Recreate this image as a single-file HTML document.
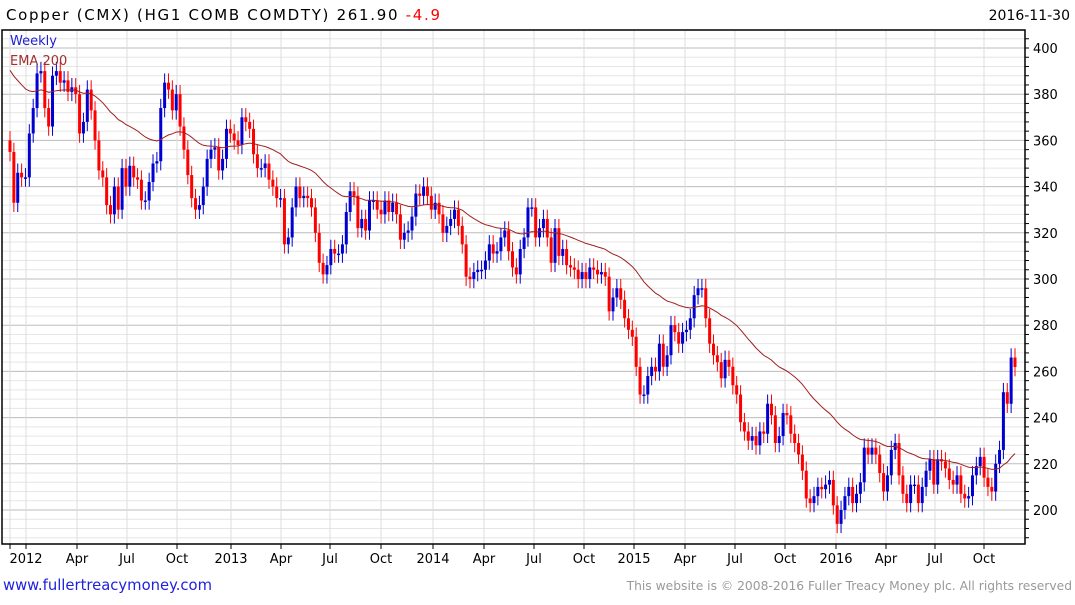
<!DOCTYPE html>
<html><head><meta charset="utf-8"><style>
body{margin:0;background:#fff;width:1075px;height:600px;overflow:hidden;font-family:"Liberation Sans","DejaVu Sans",sans-serif}
svg text{font-family:"DejaVu Sans","Liberation Sans",sans-serif}
</style></head><body>
<svg id="c" width="1075" height="600">
<text x="6" y="20" font-size="15" fill="#000" textLength="434" lengthAdjust="spacing">Copper (CMX) (HG1 COMB COMDTY) 261.90 <tspan fill="#ff0000">-4.9</tspan></text>
<text x="1070" y="20" font-size="14" fill="#000" text-anchor="end">2016-11-30</text>
<g id="grid"></g><g id="marks"></g>
<text x="10" y="45" font-size="13" fill="#2020d0">Weekly</text>
<text x="10" y="65" font-size="13" fill="#a03030">EMA 200</text>
<text x="3" y="590" font-size="15" fill="#2020e0" textLength="209" lengthAdjust="spacingAndGlyphs">www.fullertreacymoney.com</text>
<text x="1072" y="590" font-size="12.3" fill="#999" text-anchor="end">This website is © 2008-2016 Fuller Treacy Money plc. All rights reserved</text>
</svg>
<script>
const closes=[355,333,346,344,344,363,374,389,390,374,366,388,390,385,386,381,383,380,363,368,382,373,360,347,344,332,328,340,330,348,340,349,344,343,334,334,342,350,351,374,385,382,373,380,366,356,345,335,330,332,340,352,356,357,347,352,365,363,360,358,370,368,365,354,348,
348,350,343,340,335,335,315,318,331,340,335,336,335,331,320,307,302,306,313,311,311,315,329,338,336,322,326,321,334,334,330,328,334,329,333,328,317,320,321,327,337,336,340,336,330,333,328,320,323,326,330,323,315,301,300,303,304,304,308,315,311,312,318,321,312,305,302,313,318,331,331,318,322,326,318,307,322,310,313,306,305,304,300,303,300,305,304,302,303,301,286,292,296,291,283,278,275,262,250,250,258,262,260,272,262,267,280,277,272,277,278,283,293,296,296,283,272,267,264,257,265,262,254,250,238,234,230,232,228,234,233,246,241,229,232,242,241,233,229,224,217,205,203,206,210,209,211,213,202,194,200,206,210,203,207,212,227,224,227,224,216,208,215,226,229,215,207,203,211,211,203,210,217,222,211,222,221,218,213,211,215,207,205,206,215,219,223,214,210,208,220,226,251,246,266,261.9];
const firstOpen=[360];
const wickUp=[4];
const wickDown=[4];
const yTicks=[200,220,240,260,280,300,320,340,360,380,400];
const monthLabels=["2012","Apr","Jul","Oct","2013","Apr","Jul","Oct","2014","Apr","Jul","Oct","2015","Apr","Jul","Oct","2016","Apr","Jul","Oct"];
const monthX=[26,77,127,177,231,281,330,381,433,484,534,584,634,685,735,785,836,886,935,984];
const emaSeed=[392];
const emaPeriod=[44];

const NS="http://www.w3.org/2000/svg";
const L=2,R=1025,T=30,B=544;
const y=v=>510-(v-200)*2.31;
const x=i=>10+i*(1005/(closes.length-1));
const grid=document.getElementById('grid'),marks=document.getElementById('marks');
function mk(tag,a,p){const e=document.createElementNS(NS,tag);for(const k in a)e.setAttribute(k,a[k]);p.appendChild(e);return e;}
for(let v=184;v<=412;v+=4){const yy=y(v);if(yy<T||yy>B)continue;
 const major=v%20===0;
 const g=mk('line',{x1:L,x2:R,y1:yy,y2:yy,stroke:major?'#bdbdbd':'#e6e6e6','stroke-width':1},grid);
 
 
 const t=mk('line',{x1:R,x2:R+4,y1:yy,y2:yy,stroke:'#000'},grid);
 
 
}
yTicks.forEach(v=>{const t=mk('text',{x:R+8,y:y(v)+5,'font-size':13,fill:'#000'},grid);t.textContent=v;
 
 });
[10].concat(monthX).forEach(mx=>{const g=mk('line',{x1:mx,x2:mx,y1:T,y2:B,stroke:'#dcdcdc'},grid);
 
 
 const t=mk('line',{x1:mx,x2:mx,y1:B,y2:B+5,stroke:'#000'},grid);
 
 });
monthLabels.forEach((m,i)=>{const t=mk('text',{x:monthX[i],y:563,'font-size':13,fill:'#000','text-anchor':'middle'},grid);t.textContent=m;
 
 });
const frame=mk('path',{d:`M${L} ${T}H${R}V${B}H${L}Z`,fill:'none',stroke:'#000','stroke-width':1.5},grid);


closes.forEach((c,i)=>{
 const o=i===0?firstOpen[0]:closes[i-1];
 const hi=Math.max(o,c)+wickUp[0],lo=Math.min(o,c)-wickDown[0];
 const col=c>=o?'#0000d0':'#ff0000';const xx=x(i);
 const w=mk('line',{x1:xx,x2:xx,y1:y(hi),y2:y(lo),stroke:col,'stroke-width':1},marks);
 
 
 const b=mk('rect',{x:xx-1.5,y:y(Math.max(o,c)),width:3,height:Math.max(1.5,Math.abs(y(o)-y(c))),fill:col},marks);
 
 
});
let e=emaSeed[0];const a=2/(emaPeriod[0]+1);let d='';
closes.forEach((c,i)=>{e=e+a*(c-e);d+=(i?'L':'M')+x(i).toFixed(1)+' '+y(e).toFixed(1);});
const ema=mk('path',{d:d,fill:'none',stroke:'#a02020','stroke-width':1},marks);


</script>
</body></html>
